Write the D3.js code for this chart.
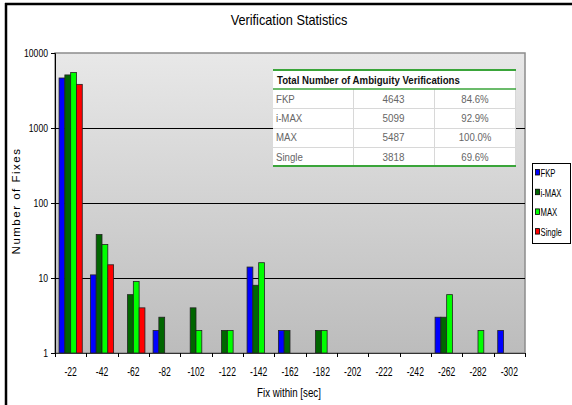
<!DOCTYPE html>
<html>
<head>
<meta charset="utf-8">
<script src="https://cdn.jsdelivr.net/npm/d3@7"></script>
<style>
  body { margin: 0; background: #fff; }
  svg { display: block; font-family: "Liberation Sans", Arial, sans-serif; }
</style>
</head>
<body>
<svg id="chart" width="572" height="405"></svg>
<script>
// chart values
const categories = ["-22", "-42", "-62", "-82", "-102", "-122", "-142", "-162", "-182", "-202", "-222", "-242", "-262", "-282", "-302"];
const seriesNames = ["FKP", "i-MAX", "MAX", "Single"];
const seriesColors = ["#0000ff", "#006600", "#00ff00", "#ff0000"];
const fkp    = [4643, 11, 0, 2, 0, 0, 14, 2, 0, 0, 0, 0, 3, 0, 2];
const imax   = [5099, 38, 6, 3, 4, 2, 8, 2, 2, 0, 0, 0, 3, 0, 0];
const max    = [5487, 28, 9, 0, 2, 2, 16, 0, 2, 0, 0, 0, 6, 2, 0];
const single = [3818, 15, 4, 0, 0, 0, 0, 0, 0, 0, 0, 0, 0, 0, 0];
const yTicks = [1, 10, 100, 1000, 10000];

// table values
const tableTitle = "Total Number of Ambiguity Verifications";
const tableNames = ["FKP", "i-MAX", "MAX", "Single"];
const tableCounts = ["4643", "5099", "5487", "3818"];
const tablePercents = ["84.6%", "92.9%", "100.0%", "69.6%"];

const allSeries = [fkp, imax, max, single];

const svg = d3.select("#chart");

// the reference uses a narrow face; squeeze text horizontally around its anchor
const squeeze = (sel, s) => {
    sel.each(function() {
        const t = d3.select(this);
        const x0 = +t.attr("x") || 0;
        t.attr("x", 0).attr("transform", `translate(${x0},0) scale(${s},1)`);
    });
};

// outer frame (left and top edges visible)
svg.append("line").attr("x1", 6).attr("x2", 6).attr("y1", 3).attr("y2", 405)
    .attr("stroke", "#000").attr("stroke-width", 2.5);
svg.append("line").attr("x1", 5).attr("x2", 572).attr("y1", 4).attr("y2", 4)
    .attr("stroke", "#000").attr("stroke-width", 2.5);

const plot = { left: 55, right: 525, top: 53, bottom: 353 };

// plot background gradient
const defs = svg.append("defs");
const grad = defs.append("linearGradient").attr("id", "bg")
    .attr("x1", 0).attr("y1", 0).attr("x2", 0).attr("y2", 1);
grad.append("stop").attr("offset", "0%").attr("stop-color", "#e8e8e8");
grad.append("stop").attr("offset", "100%").attr("stop-color", "#bcbcbc");

svg.append("rect")
    .attr("x", plot.left).attr("y", plot.top)
    .attr("width", plot.right - plot.left).attr("height", plot.bottom - plot.top)
    .attr("fill", "url(#bg)")
    .attr("stroke", "#8c8c8c").attr("stroke-width", 1.5);

const x = d3.scaleBand().domain(categories).range([plot.left, plot.right]);
const xs = d3.scaleBand().domain(seriesNames).range([0, x.bandwidth()]).paddingInner(0).paddingOuter(0.7);
const y = d3.scaleLog().domain([1, 10000]).range([plot.bottom, plot.top]);

// gridlines
svg.append("g").selectAll("line")
    .data(yTicks.filter(t => t > 1 && t < 10000))
    .join("line")
    .attr("x1", plot.left).attr("x2", plot.right)
    .attr("y1", d => Math.round(y(d)) + 0.5).attr("y2", d => Math.round(y(d)) + 0.5)
    .attr("stroke", "#000").attr("stroke-width", 1);

// bars
const barData = [];
categories.forEach((c, i) => {
    seriesNames.forEach((s, j) => {
        const v = allSeries[j][i];
        if (v > 0) barData.push({ cat: c, series: s, value: v, color: seriesColors[j] });
    });
});

svg.append("g").selectAll("rect")
    .data(barData)
    .join("rect")
    .attr("x", d => x(d.cat) + xs(d.series))
    .attr("y", d => y(d.value))
    .attr("width", xs.bandwidth())
    .attr("height", d => plot.bottom - y(d.value))
    .attr("fill", d => d.color)
    .attr("stroke", "#222").attr("stroke-width", 0.8);

// y axis
const yAxis = svg.append("g")
    .attr("transform", `translate(${plot.left},0)`)
    .call(d3.axisLeft(y).tickValues(yTicks).tickFormat(d3.format("d")).tickSize(4).tickPadding(3));
yAxis.select(".domain").attr("stroke", "#000");
yAxis.selectAll(".tick line").attr("stroke", "#000");
yAxis.selectAll("text").attr("font-size", 11.5).attr("fill", "#000").style("font-family", "inherit")
    .call(squeeze, 0.75);

// x axis
const xAxis = svg.append("g")
    .attr("transform", `translate(0,${plot.bottom})`)
    .call(d3.axisBottom(x).tickSize(0).tickPadding(14));
xAxis.select(".domain").attr("stroke", "#333");
xAxis.selectAll("text").attr("font-size", 13).attr("fill", "#000").style("font-family", "inherit")
    .call(squeeze, 0.66);
xAxis.selectAll(".sep")
    .data(categories.concat(["end"]))
    .join("line")
    .attr("class", "sep")
    .attr("x1", (d, i) => Math.round(plot.left + i * x.step()) + 0.5)
    .attr("x2", (d, i) => Math.round(plot.left + i * x.step()) + 0.5)
    .attr("y1", 0).attr("y2", 4)
    .attr("stroke", "#000");

// titles
svg.append("text")
    .attr("x", 289).attr("y", 25)
    .attr("text-anchor", "middle")
    .attr("font-size", 14)
    .text("Verification Statistics")
    .call(squeeze, 0.91);

svg.append("text")
    .attr("transform", "translate(20,201) rotate(-90)")
    .attr("text-anchor", "middle")
    .attr("font-size", 11.5)
    .attr("letter-spacing", 1.5)
    .text("Number of Fixes");

svg.append("text")
    .attr("x", 289).attr("y", 397)
    .attr("text-anchor", "middle")
    .attr("font-size", 12.5)
    .text("Fix within [sec]")
    .call(squeeze, 0.78);

// summary table
const tbl = { left: 273, right: 516, top: 70, headerH: 19, rowH: 19.25 };
const cols = [273, 353, 434, 516];
const tg = svg.append("g");
const tblBottom = tbl.top + tbl.headerH + tbl.rowH * tableNames.length;
tg.append("rect")
    .attr("x", tbl.left).attr("y", tbl.top)
    .attr("width", tbl.right - tbl.left).attr("height", tblBottom - tbl.top)
    .attr("fill", "#fff");

// row separators
tg.selectAll(".rowline")
    .data(d3.range(1, tableNames.length))
    .join("line")
    .attr("x1", tbl.left).attr("x2", tbl.right)
    .attr("y1", i => Math.round(tbl.top + tbl.headerH + i * tbl.rowH) + 0.5)
    .attr("y2", i => Math.round(tbl.top + tbl.headerH + i * tbl.rowH) + 0.5)
    .attr("stroke", "#d8d8d8");
tg.selectAll(".colline")
    .data([cols[1], cols[2]])
    .join("line")
    .attr("x1", d => d + 0.5).attr("x2", d => d + 0.5)
    .attr("y1", tbl.top + tbl.headerH).attr("y2", tblBottom)
    .attr("stroke", "#d8d8d8");
tg.append("line").attr("x1", tbl.right - 0.5).attr("x2", tbl.right - 0.5)
    .attr("y1", tbl.top).attr("y2", tblBottom).attr("stroke", "#d8d8d8");

// green rules
[tbl.top, tbl.top + tbl.headerH, tblBottom].forEach((yy, i) => {
    tg.append("line")
        .attr("x1", tbl.left).attr("x2", tbl.right)
        .attr("y1", yy).attr("y2", yy)
        .attr("stroke", "#3aa53a").attr("stroke-width", i === 1 ? 1.5 : 2);
});

tg.append("text")
    .attr("x", tbl.left + 4).attr("y", tbl.top + 14)
    .attr("font-size", 11.5).attr("font-weight", "bold")
    .attr("fill", "#111")
    .text(tableTitle)
    .call(squeeze, 0.84);

tableNames.forEach((name, i) => {
    const ty = tbl.top + tbl.headerH + i * tbl.rowH + 14;
    tg.append("text").attr("x", tbl.left + 3).attr("y", ty)
        .attr("font-size", 11.5).attr("fill", "#666").text(name)
        .call(squeeze, 0.84);
    tg.append("text").attr("x", (cols[1] + cols[2]) / 2).attr("y", ty)
        .attr("text-anchor", "middle")
        .attr("font-size", 11.5).attr("fill", "#666").text(tableCounts[i])
        .call(squeeze, 0.86);
    tg.append("text").attr("x", (cols[2] + cols[3]) / 2).attr("y", ty)
        .attr("text-anchor", "middle")
        .attr("font-size", 11.5).attr("fill", "#666").text(tablePercents[i])
        .call(squeeze, 0.84);
});

// legend
const lg = svg.append("g");
lg.append("rect")
    .attr("x", 532.5).attr("y", 163.5).attr("width", 38).attr("height", 80)
    .attr("fill", "#fff").attr("stroke", "#000");
seriesNames.forEach((s, i) => {
    const ly = 173 + i * 19.7;
    lg.append("rect")
        .attr("x", 535.5).attr("y", ly - 3.5).attr("width", 4).attr("height", 5.5)
        .attr("fill", seriesColors[i]).attr("stroke", "#000").attr("stroke-width", 0.8);
    lg.append("text")
        .attr("x", 540.5).attr("y", ly + 4)
        .attr("font-size", 11)
        .text(s)
        .call(squeeze, 0.7);
});
</script>
</body>
</html>
